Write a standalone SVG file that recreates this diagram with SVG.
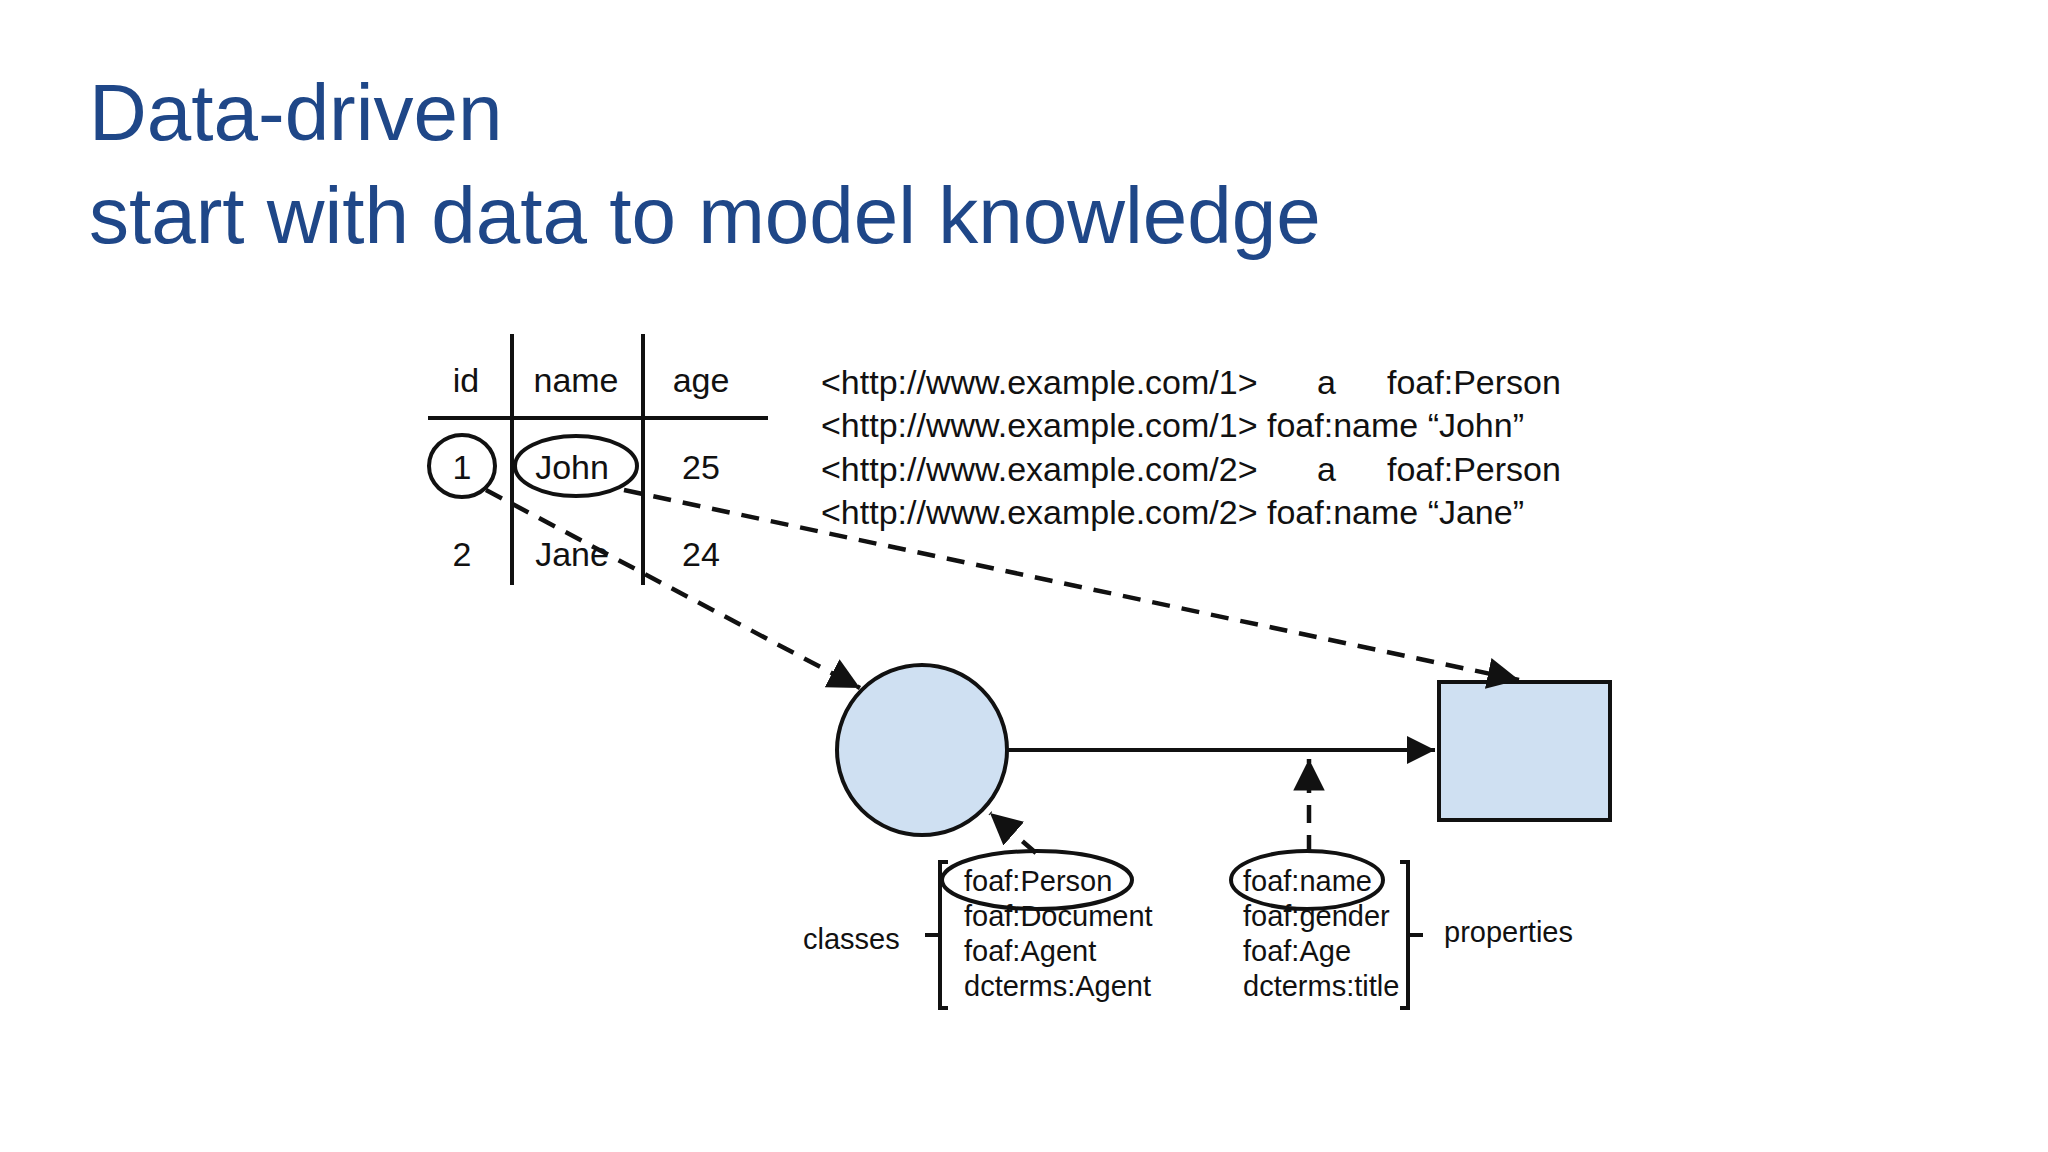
<svg xmlns="http://www.w3.org/2000/svg" width="2048" height="1152" viewBox="0 0 2048 1152">
<style>
text{font-family:"Liberation Sans",Arial,sans-serif;fill:#111}
.t{font-size:34px}
.s{font-size:29px}
.title{font-size:80px;fill:#1f4788}
.ln{stroke:#111;stroke-width:4;fill:none}
.d{stroke:#111;stroke-width:4.5;fill:none;stroke-dasharray:18 12}
</style>
<defs>
<marker id="ah" viewBox="0 0 10 10" refX="10" refY="5" markerWidth="7" markerHeight="7" markerUnits="strokeWidth" orient="auto"><path d="M0,0L10,5L0,10z" fill="#111"/></marker>
</defs>
<rect width="2048" height="1152" fill="#fff"/>
<g id="title">
<text class="title" x="89" y="140">Data-driven</text>
<text class="title" x="89" y="243">start with data to model knowledge</text>
</g>
<g id="table">
<line class="ln" x1="512" y1="334" x2="512" y2="585"/>
<line class="ln" x1="643" y1="334" x2="643" y2="585"/>
<line class="ln" x1="428" y1="418" x2="768" y2="418"/>
<g class="t" text-anchor="middle">
<text x="466" y="392">id</text><text x="576" y="392">name</text><text x="701" y="392">age</text>
<text x="462" y="479">1</text><text x="572" y="479">John</text><text x="701" y="479">25</text>
<text x="462" y="566">2</text><text x="572" y="566">Jane</text><text x="701" y="566">24</text>
</g>
<ellipse class="ln" cx="462" cy="466" rx="33" ry="31"/>
<ellipse class="ln" cx="576" cy="466" rx="61" ry="30"/>
</g>
<g id="triples" class="t">
<text x="821" y="394">&lt;http://www.example.com/1&gt;<tspan x="1317">a</tspan><tspan x="1387">foaf:Person</tspan></text>
<text x="821" y="437">&lt;http://www.example.com/1&gt; foaf:name “John”</text>
<text x="821" y="481">&lt;http://www.example.com/2&gt;<tspan x="1317">a</tspan><tspan x="1387">foaf:Person</tspan></text>
<text x="821" y="524">&lt;http://www.example.com/2&gt; foaf:name “Jane”</text>
</g>
<g id="class-node"><circle cx="922" cy="750" r="85" fill="#cfe0f2" stroke="#111" stroke-width="4"/></g>
<g id="literal-node"><rect x="1439" y="682" width="171" height="138" fill="#cfe0f2" stroke="#111" stroke-width="4"/></g>
<g id="classes">
<ellipse class="ln" cx="1037" cy="880" rx="95" ry="29"/>
<g class="s">
<text x="964" y="891">foaf:Person</text><text x="964" y="926">foaf:Document</text><text x="964" y="961">foaf:Agent</text><text x="964" y="996">dcterms:Agent</text>
<text x="803" y="949">classes</text>
</g>
<path class="ln" d="M948,862H940V1008H948M940,935H925"/>
</g>
<g id="properties">
<ellipse class="ln" cx="1307" cy="880" rx="76" ry="29"/>
<g class="s">
<text x="1243" y="891">foaf:name</text><text x="1243" y="926">foaf:gender</text><text x="1243" y="961">foaf:Age</text><text x="1243" y="996">dcterms:title</text>
<text x="1444" y="942">properties</text>
</g>
<path class="ln" d="M1400,862H1408V1008H1400M1408,935H1423"/>
</g>
<g id="connectors">
<line class="d" x1="486" y1="490" x2="860" y2="688" marker-end="url(#ah)"/>
<line class="d" x1="624" y1="490" x2="1519" y2="680" marker-end="url(#ah)"/>
<line class="ln" x1="1008" y1="750" x2="1435" y2="750" marker-end="url(#ah)"/>
<line class="d" x1="1309" y1="853" x2="1309" y2="759" marker-end="url(#ah)"/>
<line class="d" x1="1036" y1="853" x2="990" y2="813" marker-end="url(#ah)"/>
</g>
</svg>
